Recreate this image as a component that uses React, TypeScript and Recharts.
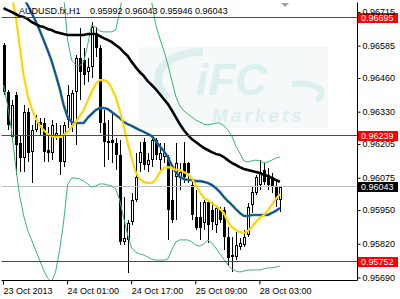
import React from 'react';
import { ComposedChart, Bar, Line, XAxis, YAxis, ReferenceLine } from 'recharts';

// Bar times (H1), grouped by trading session: [day, first hour, last hour]
const sessions: [string, number, number][] = [
  ['23 Oct', 9, 23],
  ['24 Oct', 0, 23],
  ['25 Oct', 0, 21],
  ['28 Oct', 0, 8],
];
const times: string[] = [];
sessions.forEach(([d, a, b]) => {
  for (let h = a; h <= b; h++) times.push(`${d} ${String(h).padStart(2, '0')}:00`);
});

const tickIndex = [0, 16, 32, 48, 64];
const tickLabels = ['23 Oct 2013', '24 Oct 01:00', '24 Oct 17:00', '25 Oct 09:00', '28 Oct 03:00'];
const priceTicks = [0.96715, 0.96585, 0.9646, 0.9633, 0.96205, 0.96075, 0.9595, 0.9582, 0.9569];

const opens = [
  0.96589, 0.96408, 0.96234, 0.96396, 0.96211, 0.96153, 0.96331, 0.96176, 0.96261, 0.96292,
  0.96288, 0.96184, 0.96172, 0.96234, 0.9623, 0.96138, 0.963, 0.96281, 0.96408, 0.96539,
  0.96531, 0.96485, 0.96504, 0.96636, 0.96578, 0.96288, 0.96219, 0.96223, 0.96211, 0.96165,
  0.95829, 0.95837, 0.95906, 0.95991, 0.96134, 0.96215, 0.96126, 0.96145, 0.96223, 0.96145,
  0.96157, 0.96157, 0.95991, 0.9608, 0.96076, 0.96134, 0.96134, 0.96049, 0.95925, 0.95925,
  0.95902, 0.95983, 0.95952, 0.95895, 0.95952, 0.95952, 0.95848, 0.95771, 0.95771, 0.9581,
  0.95817, 0.95856, 0.95972, 0.96018, 0.96049, 0.96107, 0.96088, 0.9608, 0.96041, 0.95992,
];
const highs = [
  0.96597, 0.96416, 0.96377, 0.96408, 0.96242, 0.96358, 0.96346, 0.96281, 0.96319, 0.96308,
  0.96308, 0.96273, 0.963, 0.96288, 0.96281, 0.96292, 0.96435, 0.96416, 0.96551, 0.96655,
  0.96578, 0.96539, 0.96678, 0.96659, 0.96589, 0.96338, 0.963, 0.96327, 0.9623, 0.96223,
  0.96003, 0.95914, 0.96018, 0.96172, 0.96215, 0.9623, 0.96172, 0.9623, 0.9623, 0.96211,
  0.96211, 0.96165, 0.96107, 0.96211, 0.96134, 0.96215, 0.96138, 0.96061, 0.9603, 0.95983,
  0.95991, 0.95991, 0.95983, 0.95972, 0.95964, 0.95964, 0.95887, 0.95848, 0.95868, 0.95844,
  0.95875, 0.95979, 0.96041, 0.96088, 0.96145, 0.96134, 0.96115, 0.96095, 0.96068, 0.96043,
];
const lows = [
  0.96396, 0.96261, 0.96223, 0.96088, 0.96099, 0.96099, 0.96138, 0.96057, 0.96254, 0.96242,
  0.96138, 0.96138, 0.96145, 0.96223, 0.96088, 0.96118, 0.96269, 0.96254, 0.96203, 0.96377,
  0.96435, 0.96447, 0.96462, 0.96543, 0.9625, 0.96118, 0.96145, 0.96134, 0.96107, 0.95817,
  0.95817, 0.95709, 0.95895, 0.95983, 0.96099, 0.96107, 0.96099, 0.96118, 0.96145, 0.96099,
  0.96134, 0.95837, 0.95902, 0.95914, 0.9603, 0.96057, 0.96057, 0.95914, 0.95875, 0.95837,
  0.95875, 0.95825, 0.95875, 0.95864, 0.95902, 0.95798, 0.9574, 0.95713, 0.95759, 0.95798,
  0.9581, 0.95848, 0.95941, 0.9601, 0.9603, 0.96049, 0.9603, 0.96018, 0.95964, 0.95946,
];
const closes = [
  0.96408, 0.96281, 0.96358, 0.96203, 0.96153, 0.96331, 0.96172, 0.96261, 0.963, 0.96281,
  0.96176, 0.96172, 0.96281, 0.9625, 0.96138, 0.96281, 0.96396, 0.96404, 0.96539, 0.96485,
  0.96474, 0.96504, 0.96659, 0.96578, 0.96288, 0.96215, 0.96211, 0.96211, 0.96165, 0.95829,
  0.95844, 0.95902, 0.95991, 0.9608, 0.96176, 0.96126, 0.96145, 0.96223, 0.96165, 0.96172,
  0.96172, 0.95952, 0.95914, 0.96134, 0.96099, 0.9608, 0.96095, 0.95933, 0.95883, 0.95883,
  0.95983, 0.95895, 0.95906, 0.9596, 0.95914, 0.95848, 0.95767, 0.95779, 0.95817, 0.95825,
  0.95848, 0.95964, 0.96022, 0.9608, 0.96099, 0.96061, 0.96049, 0.96041, 0.95991, 0.96043,
];

// Fast MA (yellow)
const maFast = [
  0.96917, 0.9686, 0.96782, 0.96705, 0.96589, 0.96474, 0.96396, 0.96346, 0.96308, 0.96281,
  0.96261, 0.96246, 0.96238, 0.96234, 0.96234, 0.96242, 0.96254, 0.96273, 0.96292, 0.96315,
  0.96338, 0.96373, 0.96408, 0.96439, 0.96454, 0.96454, 0.96447, 0.96423, 0.96389, 0.96338,
  0.96277, 0.96211, 0.96153, 0.96099, 0.96072, 0.96061, 0.96057, 0.96057, 0.96068, 0.96099,
  0.96115, 0.96118, 0.96115, 0.96107, 0.96107, 0.96099, 0.96091, 0.96076, 0.96049, 0.96022,
  0.95999, 0.95991, 0.95979, 0.95968, 0.95956, 0.95941, 0.95906, 0.95887, 0.95875, 0.95868,
  0.95864, 0.95871, 0.95887, 0.95906, 0.95922, 0.95933, 0.95952, 0.95972, 0.95995, 0.96014,
];
// Medium MA (blue) = Bollinger middle line
const maMid = [
  0.96917, 0.96879, 0.96848, 0.96817, 0.96794, 0.96771, 0.96744, 0.96713, 0.96682, 0.96647,
  0.96609, 0.9657, 0.96528, 0.96477, 0.96423, 0.96358, 0.96311, 0.96292, 0.96288, 0.96288,
  0.96288, 0.96308, 0.96323, 0.96338, 0.96346, 0.96346, 0.96342, 0.96331, 0.96319, 0.96308,
  0.96292, 0.96284, 0.96277, 0.96269, 0.96261, 0.96254, 0.96246, 0.96238, 0.96219, 0.96199,
  0.9618, 0.96157, 0.96126, 0.96099, 0.9608, 0.96072, 0.96068, 0.96068, 0.96064, 0.96064,
  0.96061, 0.96057, 0.96049, 0.96037, 0.96022, 0.96003, 0.95987, 0.95972, 0.95956, 0.95941,
  0.95929, 0.95929, 0.95933, 0.95933, 0.95933, 0.95933, 0.95933, 0.95941, 0.95949, 0.9596,
];
// Slow MA (black)
const maSlow = [
  0.96732, 0.96724, 0.96717, 0.96709, 0.96701, 0.96697, 0.9669, 0.96678, 0.9667, 0.96663,
  0.96659, 0.96651, 0.96647, 0.96639, 0.96636, 0.96632, 0.96628, 0.96628, 0.96628, 0.96628,
  0.96628, 0.96632, 0.96632, 0.96632, 0.96624, 0.96616, 0.96609, 0.96601, 0.96589, 0.96578,
  0.96562, 0.96547, 0.96524, 0.96504, 0.96485, 0.9647, 0.9645, 0.96435, 0.96419, 0.964,
  0.96381, 0.96362, 0.96338, 0.96311, 0.96284, 0.96261, 0.96242, 0.96226, 0.96215, 0.96203,
  0.96192, 0.96184, 0.96176, 0.96169, 0.96165, 0.96157, 0.96145, 0.96134, 0.96126, 0.96118,
  0.96111, 0.96107, 0.96103, 0.96099, 0.96095, 0.96088, 0.96084, 0.96076, 0.96068, 0.96061,
];
// Bollinger upper band
const bandUpper = [
  0.96995, 0.97033, 0.97072, 0.97091, 0.9711, 0.9711, 0.97103, 0.97091, 0.97072, 0.97053,
  0.97026, 0.96995, 0.96956, 0.9691, 0.96848, 0.96782, 0.96609, 0.96531, 0.96512, 0.96508,
  0.96524, 0.96589, 0.96667, 0.96659, 0.96643, 0.9664, 0.9664, 0.9664, 0.96647, 0.96717,
  0.96802, 0.9686, 0.96898, 0.9691, 0.9691, 0.96898, 0.9686, 0.96755, 0.96667, 0.96616,
  0.9657, 0.96516, 0.96454, 0.96392, 0.96354, 0.96335, 0.96323, 0.96311, 0.963, 0.96292,
  0.96284, 0.96281, 0.96284, 0.96288, 0.96288, 0.96277, 0.96261, 0.96238, 0.96199, 0.96172,
  0.96142, 0.96138, 0.96142, 0.96145, 0.96142, 0.96134, 0.96138, 0.96145, 0.96153, 0.96157,
];
// Bollinger lower band
const bandLower = [
  0.96435, 0.96358, 0.96261, 0.96126, 0.9601, 0.95933, 0.95875, 0.95837, 0.95798, 0.95759,
  0.95721, 0.9569, 0.95675, 0.95713, 0.95798, 0.95906, 0.96049, 0.96076, 0.96076, 0.96072,
  0.96064, 0.96053, 0.96041, 0.96045, 0.96053, 0.96053, 0.96049, 0.96045, 0.96034, 0.95991,
  0.95922, 0.95856, 0.95806, 0.9579, 0.95783, 0.95779, 0.95771, 0.95763, 0.95759, 0.95759,
  0.95759, 0.95763, 0.95798, 0.95829, 0.95837, 0.95837, 0.95837, 0.95829, 0.95817, 0.95813,
  0.95821, 0.95837, 0.95825, 0.95806, 0.95783, 0.95763, 0.9574, 0.95725, 0.95717, 0.95713,
  0.95717, 0.95721, 0.95721, 0.95721, 0.95721, 0.95725, 0.95729, 0.95729, 0.95732, 0.95736,
];

const levels = [
  { price: 0.96695, color: '#FF0000', tag: '#FF0000' },
  { price: 0.96239, color: '#FF0000', tag: '#FF0000' },
  { price: 0.95752, color: '#FF0000', tag: '#FF0000' },
];
const bid = 0.96043;

const data = times.map((t, i) => ({
  i,
  t,
  open: opens[i],
  high: highs[i],
  low: lows[i],
  close: closes[i],
  fast: maFast[i],
  mid: maMid[i],
  slow: maSlow[i],
  up: bandUpper[i],
  dn: bandLower[i],
}));

const FONT = '"Liberation Sans", Arial, sans-serif';
const Y_DOMAIN: [number, number] = [0.9568027, 0.9675335];
const X_DOMAIN: [number, number] = [-0.5, 88.375];

const Candle = (props: any) => {
  const { x, y, width, height, payload } = props;
  if (x == null || y == null || !payload) return null;
  const { open, close, high, low } = payload;
  const top = Math.min(y, y + height);
  const bot = Math.max(y, y + height);
  const span = high - low;
  const yOf = (p: number) => (span === 0 ? top : top + ((high - p) / span) * (bot - top));
  const cx = Math.floor(x + width / 2) + 0.5;
  const yO = yOf(open);
  const yC = yOf(close);
  const bTop = Math.round(Math.min(yO, yC));
  const bBot = Math.round(Math.max(yO, yC));
  const bull = close > open;
  const h = bBot - bTop;
  let body;
  if (h < 2) {
    body = <rect x={cx - 1.5} y={bTop} width={3} height={1} fill="#000" />;
  } else if (bull) {
    body = (
      <rect x={cx - 1} y={bTop + 0.5} width={2} height={h - 1} fill="#fff" stroke="#000" strokeWidth={1} />
    );
  } else {
    body = <rect x={cx - 1.5} y={bTop} width={3} height={h} fill="#000" />;
  }
  return (
    <g>
      <line x1={cx} x2={cx} y1={Math.round(top)} y2={Math.round(bot)} stroke="#000" strokeWidth={1} />
      {body}
    </g>
  );
};

const XTick = (props: any) => {
  const { x, y, payload } = props;
  const k = tickIndex.indexOf(payload.value);
  return (
    <text x={x} y={y + 9.5} fontSize={9} fontFamily={FONT} fill="#000" textAnchor="start">
      {k >= 0 ? tickLabels[k] : ''}
    </text>
  );
};

const YTick = (props: any) => {
  const { x, y, payload } = props;
  return (
    <text x={x} y={y + 2.8} fontSize={9} fontFamily={FONT} fill="#000" textAnchor="start">
      {Number(payload.value).toFixed(5)}
    </text>
  );
};

const makeLevelShape = (color: string, tag: string, price: number) => (p: any) => {
  const yy = Math.floor(p.y1 ?? p.y) + 0.5;
  const a = p.x1 ?? 0;
  const b = p.x2 ?? 357;
  const left = Math.min(a, b);
  const right = Math.max(a, b);
  return (
    <g>
      <line x1={left} x2={right} y1={yy} y2={yy} stroke={color} strokeWidth={1} />
      <rect x={right + 0.5} y={yy - 4.5} width={40} height={10} fill={tag} />
      <text x={right + 3.5} y={yy + 3.6} fontSize={9} fontFamily={FONT} fill="#fff">
        {price.toFixed(5)}
      </text>
    </g>
  );
};

export default function App() {
  return (
    <div style={{ position: 'absolute', left: 0, top: 0, width: 400, height: 299, background: '#fff', overflow: 'hidden' }}>
      <svg width={400} height={299} style={{ position: 'absolute', left: 0, top: 0 }}>
        <rect x={138} y={47} width={190} height={81} fill="#F5F9F9" />
        <path d="M203 52 C 162 52, 146 78, 168 99" stroke="#DCEFEF" strokeWidth={8} fill="none" />
        <path d="M292 84 C 318 82, 330 92, 316 100" stroke="#DCEFEF" strokeWidth={6} fill="none" />
        <text x={196} y={95} fontSize={44} fontStyle="italic" fontWeight="bold" fontFamily={FONT} fill="#DCEFEF">
          iFC
        </text>
        <text x={212} y={122} fontSize={19} fontStyle="italic" fontWeight="bold" letterSpacing={3} fontFamily={FONT} fill="#DCEFEF">
          Markets
        </text>
      </svg>
      <div style={{ position: 'absolute', left: 0, top: 0 }}>
        <ComposedChart width={400} height={299} data={data} margin={{ top: 2.5, right: 0, bottom: 0, left: 1.5 }}>
          <XAxis
            dataKey="i"
            type="number"
            domain={X_DOMAIN}
            allowDataOverflow
            ticks={tickIndex}
            interval={0}
            height={18.5}
            tickSize={4}
            tickMargin={0}
            axisLine={{ stroke: '#000' }}
            tickLine={{ stroke: '#000' }}
            tick={<XTick />}
          />
          <XAxis xAxisId="top" orientation="top" type="number" domain={X_DOMAIN} height={0} tick={false} tickLine={false} axisLine={{ stroke: '#000' }} />
          <YAxis
            orientation="right"
            type="number"
            domain={Y_DOMAIN}
            allowDataOverflow
            ticks={priceTicks}
            interval={0}
            width={42.5}
            tickSize={3}
            tickMargin={2}
            axisLine={{ stroke: '#000' }}
            tickLine={{ stroke: '#000' }}
            tick={<YTick />}
          />
          <YAxis yAxisId="left" orientation="left" type="number" domain={Y_DOMAIN} width={0} tick={false} tickLine={false} axisLine={{ stroke: '#000' }} />
          <ReferenceLine y={bid} stroke="#C0C0C0" shape={makeLevelShape('#C0C0C0', '#000000', bid)} />
          <Bar dataKey={(d: any) => [d.low, d.high]} shape={<Candle />} barSize={3} isAnimationActive={false} />
          <Line dataKey="up" stroke="#3CB371" strokeWidth={1} dot={false} activeDot={false} isAnimationActive={false} />
          <Line dataKey="dn" stroke="#3CB371" strokeWidth={1} dot={false} activeDot={false} isAnimationActive={false} />
          <Line dataKey="mid" stroke="#2E8B57" strokeWidth={2.6} dot={false} activeDot={false} isAnimationActive={false} />
          <Line dataKey="mid" stroke="#1030E0" strokeWidth={1.1} dot={false} activeDot={false} isAnimationActive={false} />
          <Line dataKey="fast" stroke="#FFD700" strokeWidth={2.2} dot={false} activeDot={false} isAnimationActive={false} />
          <Line dataKey="slow" stroke="#000000" strokeWidth={2.6} dot={false} activeDot={false} isAnimationActive={false} />
          {levels.map((l) => (
            <ReferenceLine key={l.price} y={l.price} stroke={l.color} shape={makeLevelShape(l.color, l.tag, l.price)} />
          ))}
        </ComposedChart>
      </div>
      <svg width={400} height={299} style={{ position: 'absolute', left: 0, top: 0, pointerEvents: 'none' }}>
        <polygon points="281,3 289,3 285,7" fill="#A0A0A0" />
        <text x={19} y={14} fontSize={9} fontFamily={FONT} fill="#000">AUDUSD.fx,H1</text>
        <text x={90} y={14} fontSize={9} fontFamily={FONT} fill="#000">0.95992 0.96043 0.95946 0.96043</text>
      </svg>
    </div>
  );
}
